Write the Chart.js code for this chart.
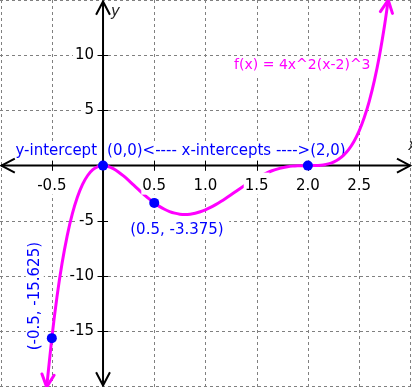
<!DOCTYPE html>
<html><head><meta charset="utf-8">
<script src="https://cdn.jsdelivr.net/npm/chart.js@4/dist/chart.umd.min.js"></script>
<style>html,body{margin:0;padding:0;background:#fff;overflow:hidden}</style>
</head><body>
<canvas id="c" width="412" height="387"></canvas>
<script>
// ---- data ----
const curveX = [-0.55,-0.5,-0.45,-0.4,-0.35,-0.3,-0.25,-0.2,-0.15,-0.1,-0.05,0,0.05,0.1,0.15,0.2,0.25,0.3,0.35,0.4,0.45,0.5,0.55,0.6,0.65,0.7,0.75,0.8,0.85,0.9,0.95,1.0,1.05,1.1,1.15,1.2,1.25,1.3,1.35,1.4,1.45,1.5,1.55,1.6,1.65,1.7,1.75,1.8,1.85,1.9,1.95,2.0,2.05,2.1,2.15,2.2,2.25,2.3,2.35,2.4,2.45,2.5,2.55,2.6,2.65,2.7,2.75,2.785];
const curveY = [-20.06,-15.625,-11.91,-8.85,-6.36,-4.38,-2.85,-1.70,-0.894,-0.370,-0.086,0,-0.074,-0.274,-0.570,-0.933,-1.340,-1.769,-2.201,-2.621,-3.016,-3.375,-3.689,-3.951,-4.158,-4.306,-4.395,-4.424,-4.395,-4.312,-4.180,-4.0,-3.780,-3.528,-3.249,-2.949,-2.637,-2.319,-2.002,-1.693,-1.399,-1.125,-0.876,-0.655,-0.467,-0.312,-0.191,-0.104,-0.046,-0.014,-0.002,0,0.002,0.018,0.062,0.155,0.316,0.571,0.947,1.475,2.188,3.125,4.327,5.841,7.714,10.002,12.762,15.0];
const markedX = [-0.5, 0, 0.5, 2];
const markedY = [-15.625, 0, -3.375, 0];
const xTickValues = [-0.5, 0.5, 1.0, 1.5, 2.0, 2.5];
const xTickLabels = ['-0.5','0.5','1.0','1.5','2.0','2.5'];
const yTickValues = [10, 5, -5, -10, -15];
const yTickLabels = ['10','5','-5','-10','-15'];
const xGridValues = [-1, -0.5, 0.5, 1, 1.5, 2, 2.5, 3];
const yGridValues = [15, 10, 5, -5, -10, -15, -20];
const functionLabel = 'f(x) = 4x^2(x-2)^3';
const yInterceptLabel = 'y-intercept';
const xInterceptLabel = '(0,0)<---- x-intercepts ---->(2,0)';
const pointLabelA = '(0.5, -3.375)';
const pointLabelB = '(-0.5, -15.625)';

const FONT = '15px "DejaVu Sans", Verdana, sans-serif';
const BLUE = '#0000ff', MAGENTA = '#ff00ff';

// pad = [left, above, right, below]
function textBox(ctx, text, x, y, align, color, pad) {
  ctx.textAlign = align; ctx.textBaseline = 'middle';
  const w = ctx.measureText(text).width;
  const left = align === 'left' ? x : align === 'right' ? x - w : x - w / 2;
  ctx.fillStyle = '#fff';
  ctx.fillRect(left - pad[0], y - pad[1], w + pad[0] + pad[2], pad[1] + pad[3]);
  ctx.fillStyle = color;
  ctx.fillText(text, x, y);
}
function chevron(ctx, tx, ty, ang, len, half) {
  ctx.beginPath();
  ctx.moveTo(tx - len * Math.cos(ang - half), ty - len * Math.sin(ang - half));
  ctx.lineTo(tx, ty);
  ctx.lineTo(tx - len * Math.cos(ang + half), ty - len * Math.sin(ang + half));
  ctx.stroke();
}

const decor = {
  id: 'decor',
  beforeDatasetsDraw(chart) {
    const ctx = chart.ctx, sx = chart.scales.x, sy = chart.scales.y, a = chart.chartArea;
    const x0 = sx.getPixelForValue(0), y0 = sy.getPixelForValue(0);
    ctx.save();
    // grid
    ctx.strokeStyle = '#808080'; ctx.lineWidth = 1; ctx.setLineDash([3, 3]);
    xGridValues.forEach(v => {
      const p = Math.min(Math.round(sx.getPixelForValue(v)) + 0.5, a.right - 1.5);
      ctx.beginPath(); ctx.moveTo(p, a.top); ctx.lineTo(p, a.bottom); ctx.stroke();
    });
    yGridValues.forEach(v => {
      const p = Math.min(Math.max(Math.round(sy.getPixelForValue(v)) + 0.5, 0.5), a.bottom - 0.5);
      ctx.beginPath(); ctx.moveTo(a.left, p); ctx.lineTo(a.right, p); ctx.stroke();
    });
    ctx.setLineDash([]);
    // annotations
    ctx.font = FONT;
    textBox(ctx, yInterceptLabel, x0 - 6, y0 - 15, 'right', BLUE, [2, 9, 2, 9]);
    textBox(ctx, xInterceptLabel, x0 + 4, y0 - 15, 'left', BLUE, [1, 9, 1, 9]);
    const pa = [sx.getPixelForValue(0.5), sy.getPixelForValue(-3.375)];
    ctx.fillStyle = '#fff';
    ctx.fillRect(x0 + 2, pa[1] + 18, pa[0] + 75 - x0 - 2, 19);
    textBox(ctx, pointLabelA, pa[0] - 24, pa[1] + 27, 'left', BLUE, [0, 9, 3, 9]);
    const pb = [sx.getPixelForValue(-0.5), sy.getPixelForValue(-15.625)];
    ctx.save();
    ctx.translate(pb[0] - 17, pb[1] - 42);
    ctx.rotate(-Math.PI / 2);
    textBox(ctx, pointLabelB, 0, 0, 'center', BLUE, [1, 9, 1, 9]);
    ctx.restore();
    ctx.font = '14px "DejaVu Sans", Verdana, sans-serif';
    textBox(ctx, functionLabel, sx.getPixelForValue(1.28), sy.getPixelForValue(9.1), 'left', MAGENTA, [1, 9, 1, 11]);
    // axes
    ctx.strokeStyle = '#000'; ctx.lineWidth = 2;
    ctx.beginPath(); ctx.moveTo(a.left + 1, y0); ctx.lineTo(sx.getPixelForValue(3.0), y0); ctx.stroke();
    ctx.beginPath(); ctx.moveTo(x0, a.top + 1); ctx.lineTo(x0, a.bottom - 1); ctx.stroke();
    const half = 0.48, L = 15;
    chevron(ctx, a.left + 1.5, y0, Math.PI, L, half);
    chevron(ctx, sx.getPixelForValue(3.0), y0, 0, L, half);
    chevron(ctx, x0, a.top + 1.5, -Math.PI / 2, L, half);
    chevron(ctx, x0, a.bottom - 1.5, Math.PI / 2, L, half);
    // tick marks
    ctx.lineWidth = 1;
    xTickValues.forEach(v => {
      const p = Math.round(sx.getPixelForValue(v)) + 0.5;
      ctx.beginPath(); ctx.moveTo(p, y0 - 5); ctx.lineTo(p, y0 + 5); ctx.stroke();
    });
    yTickValues.forEach(v => {
      const p = Math.round(sy.getPixelForValue(v)) + 0.5;
      ctx.beginPath(); ctx.moveTo(x0 - 5, p); ctx.lineTo(x0 + 5, p); ctx.stroke();
    });
    // axis letters
    ctx.font = 'italic 15px "DejaVu Sans", Verdana, sans-serif';
    ctx.fillStyle = '#222'; ctx.textAlign = 'left'; ctx.textBaseline = 'middle';
    ctx.fillText('y', x0 + 8, 12);
    ctx.fillText('x', sx.getPixelForValue(2.98), y0 - 20);
    ctx.restore();
  },
  afterDatasetsDraw(chart) {
    const ctx = chart.ctx, sx = chart.scales.x, sy = chart.scales.y;
    const x0 = sx.getPixelForValue(0), y0 = sy.getPixelForValue(0);
    ctx.save();
    // curve end arrows
    ctx.strokeStyle = MAGENTA; ctx.lineWidth = 3; ctx.lineCap = 'round';
    const n = curveX.length;
    const ends = [[0, 1], [n - 1, n - 2]];
    ends.forEach(([i, j]) => {
      const tx = sx.getPixelForValue(curveX[i]), ty = sy.getPixelForValue(curveY[i]);
      const bx = sx.getPixelForValue(curveX[j]), by = sy.getPixelForValue(curveY[j]);
      chevron(ctx, tx, ty, Math.atan2(ty - by, tx - bx), 14, 0.45);
    });
    // tick labels
    ctx.font = FONT;
    xTickValues.forEach((v, i) => {
      textBox(ctx, xTickLabels[i], sx.getPixelForValue(v), y0 + 20, 'center', '#000', [1, 13, 1, 9]);
    });
    yTickValues.forEach((v, i) => {
      textBox(ctx, yTickLabels[i], x0 - 9, sy.getPixelForValue(v), 'right', '#000', [2, 8, 3, 8]);
    });
    ctx.restore();
  }
};

new Chart(document.getElementById('c'), {
  type: 'scatter',
  data: {
    datasets: [
      {
        data: markedX.map((x, i) => ({x, y: markedY[i]})),
        showLine: false, pointRadius: 5, pointHoverRadius: 5,
        backgroundColor: BLUE, borderColor: BLUE, borderWidth: 0, order: 0
      },
      {
        data: curveX.map((x, i) => ({x, y: curveY[i]})),
        showLine: true, borderColor: MAGENTA, borderWidth: 3, pointRadius: 0,
        cubicInterpolationMode: 'monotone', fill: false, order: 1
      }
    ]
  },
  options: {
    responsive: false, animation: false, events: [],
    layout: { padding: 0, autoPadding: false },
    plugins: { legend: { display: false }, tooltip: { enabled: false } },
    scales: {
      x: { type: 'linear', min: -1.006, max: 3.017, display: false },
      y: { type: 'linear', min: -20.05, max: 15, display: false }
    }
  },
  plugins: [decor]
});
</script>
</body></html>
